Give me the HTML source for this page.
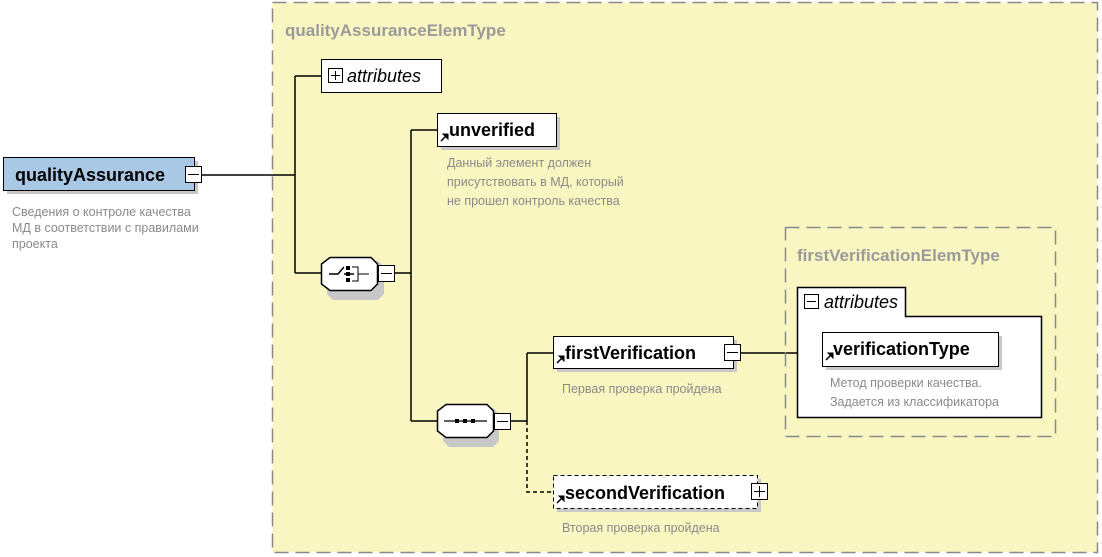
<!DOCTYPE html>
<html><head><meta charset="utf-8"><style>
html,body{margin:0;padding:0;background:#fff;}
svg{display:block;font-family:"Liberation Sans","DejaVu Sans",sans-serif;}
.b{font-weight:bold;font-size:18px;fill:#000;}
.d{font-size:12.5px;fill:#8a8a8a;}
.t{font-weight:bold;font-size:17px;fill:#9a9a9a;}
</style></head><body>
<svg width="1102" height="557" viewBox="0 0 1102 557">
<!-- outer -->
<rect x="272.5" y="2.5" width="825" height="550" fill="#f9f6c1" stroke="#8a8a8a" stroke-width="1.5" stroke-dasharray="14,7"/>
<text x="285" y="36" class="t">qualityAssuranceElemType</text>
<!-- root -->
<rect x="7" y="161" width="191" height="33" fill="#c8c8c8"/>
<rect x="3.5" y="157.5" width="191" height="33" fill="#a9c8e6" stroke="#000"/>
<text x="15" y="181" class="b">qualityAssurance</text>
<rect x="185.5" y="166.5" width="16" height="16" fill="#fff" stroke="#000"/>
<line x1="188" y1="174.5" x2="199" y2="174.5" stroke="#000"/>
<text class="d"><tspan x="12" y="216">Сведения о контроле качества</tspan><tspan x="12" y="232">МД в соответствии с правилами</tspan><tspan x="12" y="248">проекта</tspan></text>
<g stroke="#000" stroke-width="1.5" fill="none">
<path d="M202 175H295M295 76V273M295 76H321M295 273H321"/>
<path d="M395 273H411M411 130V421M411 130H437M411 421H437"/>
<path d="M510 421H527M527 353V421M527 353H553"/>
<path d="M527 421V492H553" stroke-dasharray="4,3"/>
<path d="M741 353H797"/>
</g>
<!-- attributes -->
<rect x="321.5" y="59.5" width="120" height="33" fill="#fff" stroke="#000"/>
<rect x="328.5" y="68.5" width="14" height="14" fill="#fff" stroke="#000"/>
<path d="M331 75.5H340M335.5 71V80" stroke="#000"/>
<text x="347" y="82" font-size="18" font-style="italic">attributes</text>
<!-- choice -->
<path d="M333 261H378L384 267V294L378 300H333L327 294V267Z" fill="#c8c8c8"/>
<path d="M330 257.5H371L377.5 264V284L371 290.5H330L321.5 284V264Z" fill="#fff" stroke="#000" stroke-width="1.5"/>
<path d="M329 274H338L344 267M344 274H354" stroke="#000" stroke-width="1.5" fill="none"/>
<rect x="346" y="266" width="4" height="4"/><rect x="346" y="272" width="4" height="4"/><rect x="346" y="278" width="4" height="4"/>
<path d="M352 267H358V281H352M358 274H369" stroke="#000" fill="none"/>
<rect x="378.5" y="265.5" width="16" height="16" fill="#fff" stroke="#000"/>
<line x1="381" y1="273.5" x2="392" y2="273.5" stroke="#000"/>
<!-- unverified -->
<rect x="441" y="117" width="119" height="33" fill="#c8c8c8"/>
<rect x="437.5" y="113.5" width="119" height="33" fill="#fff" stroke="#000"/>
<path d="M441 141L446 136" stroke="#000" stroke-width="1.5"/><path d="M443 134H448V139Z" fill="#000" stroke="#000"/>
<text x="449" y="136" class="b">unverified</text>
<text class="d"><tspan x="447" y="167">Данный элемент должен</tspan><tspan x="447" y="186">присутствовать в МД, который</tspan><tspan x="447" y="205">не прошел контроль качества</tspan></text>
<!-- sequence -->
<path d="M449 408H493L499 414V441L493 447H449L443 441V414Z" fill="#c8c8c8"/>
<path d="M446 404.5H487L493.5 411V431L487 437.5H446L437.5 431V411Z" fill="#fff" stroke="#000" stroke-width="1.5"/>
<path d="M444 421H487" stroke="#000" stroke-width="1.2"/>
<rect x="455" y="419" width="4" height="4"/><rect x="463" y="419" width="4" height="4"/><rect x="471" y="419" width="4" height="4"/>
<rect x="494.5" y="413.5" width="16" height="16" fill="#fff" stroke="#000"/>
<line x1="497" y1="421.5" x2="508" y2="421.5" stroke="#000"/>
<!-- firstVerification -->
<rect x="557" y="340" width="180" height="32" fill="#c8c8c8"/>
<rect x="553.5" y="336.5" width="180" height="32" fill="#fff" stroke="#000"/>
<path d="M557 363L562 358" stroke="#000" stroke-width="1.5"/><path d="M559 356H564V361Z" fill="#000" stroke="#000"/>
<text x="565" y="359" class="b">firstVerification</text>
<rect x="724.5" y="344.5" width="16" height="16" fill="#fff" stroke="#000"/>
<line x1="727" y1="352.5" x2="738" y2="352.5" stroke="#000"/>
<text x="562" y="393" class="d">Первая проверка пройдена</text>
<!-- firstVerificationElemType -->
<rect x="785.5" y="227.5" width="270" height="209" fill="none" stroke="#8a8a8a" stroke-width="1.5" stroke-dasharray="14,7"/>
<text x="797" y="261" class="t">firstVerificationElemType</text>
<path d="M797.5 316.5V287.5H905.5V316.5H1041.5V417.5H797.5Z" fill="#fff" stroke="#000" stroke-width="1.5"/>
<rect x="804.5" y="294.5" width="14" height="14" fill="#fff" stroke="#000"/>
<path d="M807 301.5H816" stroke="#000"/>
<text x="824" y="308" font-size="18" font-style="italic">attributes</text>
<rect x="826" y="336" width="176" height="34" fill="#c8c8c8"/>
<rect x="822.5" y="332.5" width="176" height="34" fill="#fff" stroke="#000"/>
<path d="M826 360L831 355" stroke="#000" stroke-width="1.5"/><path d="M828 353H833V358Z" fill="#000" stroke="#000"/>
<text x="833" y="355" class="b">verificationType</text>
<text class="d"><tspan x="830" y="387">Метод проверки качества.</tspan><tspan x="830" y="406">Задается из классификатора</tspan></text>
<!-- secondVerification -->
<rect x="557" y="479" width="204" height="33" fill="#c8c8c8"/>
<rect x="553.5" y="475.5" width="204" height="33" fill="#fff" stroke="#000" stroke-dasharray="4,3"/>
<path d="M557 503L562 498" stroke="#000" stroke-width="1.5"/><path d="M559 496H564V501Z" fill="#000" stroke="#000"/>
<text x="565" y="499" class="b">secondVerification</text>
<rect x="751.5" y="483.5" width="16" height="16" fill="#fff" stroke="#000"/>
<path d="M754 491.5H765M759.5 486V497" stroke="#000"/>
<text x="562" y="532" class="d">Вторая проверка пройдена</text>
</svg>
</body></html>
